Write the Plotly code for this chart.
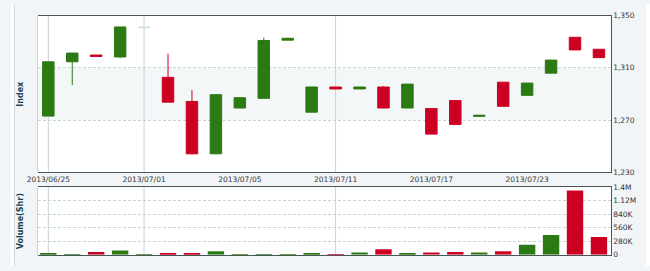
import plotly.graph_objects as go

dates = ["2013/06/25", "2013/06/26", "2013/06/27", "2013/06/28", "2013/07/01", "2013/07/02",
         "2013/07/03", "2013/07/04", "2013/07/05", "2013/07/08", "2013/07/09", "2013/07/10",
         "2013/07/11", "2013/07/12", "2013/07/15", "2013/07/16", "2013/07/17", "2013/07/18",
         "2013/07/19", "2013/07/22", "2013/07/23", "2013/07/24", "2013/07/25", "2013/07/26"]
open_ = [1273.0, 1314.6, 1319.8, 1318.3, 1340.6, 1302.7, 1284.2, 1244.1, 1279.2, 1286.6, 1331.2, 1276.0,
         1295.3, 1293.8, 1295.3, 1279.2, 1278.8, 1284.9, 1272.8, 1299.0, 1288.9, 1305.9, 1333.4, 1324.2]
close = [1314.6, 1321.3, 1318.7, 1341.3, 1341.2, 1283.7, 1244.1, 1289.4, 1287.1, 1330.9, 1332.6, 1295.3,
         1293.8, 1295.3, 1279.2, 1297.5, 1259.2, 1266.6, 1273.6, 1280.5, 1298.3, 1315.9, 1323.7, 1317.8]
high = [1314.6, 1321.3, 1319.8, 1341.3, 1341.2, 1320.8, 1292.9, 1289.4, 1287.1, 1333.2, 1333.0, 1295.3,
        1295.3, 1295.3, 1295.8, 1297.5, 1278.8, 1284.9, 1273.6, 1299.0, 1298.3, 1315.9, 1333.4, 1324.2]
low = [1273.0, 1296.8, 1318.7, 1317.6, 1340.6, 1283.7, 1244.1, 1244.1, 1279.2, 1286.6, 1331.2, 1276.0,
       1293.8, 1293.8, 1279.2, 1279.2, 1259.2, 1266.6, 1272.8, 1280.5, 1288.9, 1305.9, 1323.7, 1317.8]
volume = [27000, 13000, 53000, 87000, 7000, 33000, 20000, 73000, 13000, 13000, 13000, 33000,
          14000, 47000, 113000, 27000, 47000, 53000, 47000, 73000, 207000, 407000, 1327000, 367000]

price_ticks = [1230, 1270, 1310, 1350]
price_labels = ["1,230", "1,270", "1,310", "1,350"]
vol_ticks = [0, 280000, 560000, 840000, 1120000, 1400000]
vol_labels = ["0", "280K", "560K", "840K", "1.12M", "1.4M"]
label_dates = dates[::4]
label_text = ["2013/06/25", "2013/07/01", "2013/07/05", "2013/07/11", "2013/07/17", "2013/07/23"]
faint_idx = [4]
vline_dates = [dates[0], dates[4], dates[12]]

UP = "#2b7a14"
DOWN = "#cc0022"
FAINT_UP = "#d3e6cf"
DARK = "#4a5559"
GRID = "#c6d3d8"
TXT = "#333333"

W, H = 650, 271
x_dom = [27 / W, 610 / W]
y1_dom = [(H - 174) / H, (H - 12) / H]
y2_dom = [(H - 259.3) / H, (H - 189.3) / H]

main_i = [i for i in range(len(dates)) if i not in faint_idx]

fig = go.Figure()
fig.add_trace(go.Candlestick(
    x=[dates[i] for i in main_i], open=[open_[i] for i in main_i], high=[high[i] for i in main_i],
    low=[low[i] for i in main_i], close=[close[i] for i in main_i],
    increasing=dict(line=dict(color=UP, width=1), fillcolor=UP),
    decreasing=dict(line=dict(color=DOWN, width=1), fillcolor=DOWN),
    whiskerwidth=0, xaxis="x", yaxis="y", showlegend=False, hoverinfo="skip"))
fig.add_trace(go.Candlestick(
    x=[dates[i] for i in faint_idx], open=[open_[i] for i in faint_idx], high=[high[i] for i in faint_idx],
    low=[low[i] for i in faint_idx], close=[close[i] for i in faint_idx],
    increasing=dict(line=dict(color=FAINT_UP, width=1), fillcolor=FAINT_UP),
    decreasing=dict(line=dict(color=FAINT_UP, width=1), fillcolor=FAINT_UP),
    whiskerwidth=0, xaxis="x", yaxis="y", showlegend=False, hoverinfo="skip"))

vol_colors = [UP if c >= o else DOWN for o, c in zip(open_, close)]
fig.add_trace(go.Bar(x=dates, y=volume, marker=dict(color=vol_colors, line=dict(width=0)),
                     xaxis="x2", yaxis="y2", showlegend=False, hoverinfo="skip"))

shapes = []
shapes.append(dict(type="rect", xref="x domain", x0=0, x1=1, yref="y", y0=1270, y1=1310,
                   fillcolor="#f4f7f8", line=dict(width=0), layer="below"))
for d in vline_dates:
    shapes.append(dict(type="line", xref="x", x0=d, x1=d, yref="y domain", y0=0, y1=1,
                       line=dict(color=GRID, width=1), layer="below"))
    shapes.append(dict(type="line", xref="x2", x0=d, x1=d, yref="y2 domain", y0=0, y1=1,
                       line=dict(color=GRID, width=1), layer="below"))
for xr, yr in (("x domain", "y domain"), ("x2 domain", "y2 domain")):
    shapes.append(dict(type="line", xref=xr, x0=0, x1=0, yref=yr, y0=0, y1=1,
                       line=dict(color="#c9d1d5", width=1), layer="above"))
shapes.append(dict(type="rect", xref="paper", x0=0, x1=3 / W, yref="paper", y0=0, y1=1,
                   fillcolor="white", line=dict(width=0), layer="below"))
shapes.append(dict(type="line", xref="paper", x0=3.5 / W, x1=3.5 / W, yref="paper", y0=0, y1=1,
                   line=dict(color="#cfd6d9", width=1), layer="below"))
shapes.append(dict(type="rect", xref="paper", x0=646 / W, x1=1, yref="paper", y0=0, y1=1,
                   fillcolor="white", line=dict(width=0), layer="below"))

axis_font = dict(family="DejaVu Sans", size=7.5, color=TXT)
title_font = dict(family="DejaVu Sans", size=8, color="#164655")
xrange = [-0.45, 23.49]

fig.update_layout(
    width=W, height=H, margin=dict(l=0, r=0, t=0, b=0),
    paper_bgcolor="#f2f5f7", plot_bgcolor="white",
    boxgap=0.315, bargap=0.315,
    shapes=shapes,
    xaxis=dict(domain=x_dom, anchor="y", type="category", range=xrange,
               categoryorder="array", categoryarray=dates,
               tickmode="array", tickvals=label_dates, ticktext=label_text,
               showgrid=False, showline=True, mirror=True, linecolor=DARK, linewidth=1,
               ticks="", tickfont=axis_font, rangeslider=dict(visible=False), fixedrange=True),
    yaxis=dict(domain=y1_dom, anchor="x", side="right", range=[1230, 1350],
               tickmode="array", tickvals=price_ticks, ticktext=price_labels,
               showgrid=True, gridcolor=GRID, griddash="3px,2px", gridwidth=1,
               showline=True, linecolor=DARK, linewidth=1, zeroline=False,
               ticks="", tickfont=axis_font),
    xaxis2=dict(domain=x_dom, anchor="y2", type="category", range=xrange,
                categoryorder="array", categoryarray=dates,
                showticklabels=False, showgrid=False, showline=True, mirror=True,
                linecolor=DARK, linewidth=1, ticks=""),
    yaxis2=dict(domain=y2_dom, anchor="x2", side="right", range=[0, 1400000],
                tickmode="array", tickvals=vol_ticks, ticktext=vol_labels,
                showgrid=True, gridcolor=GRID, griddash="3px,2px", gridwidth=1,
                showline=True, linecolor=DARK, linewidth=1, zeroline=False,
                ticks="", tickfont=axis_font),
    annotations=[
        dict(text="<b>Index</b>", xref="paper", yref="paper", x=10 / W, y=(H - 93) / H,
             xanchor="center", yanchor="middle",
             textangle=-90, showarrow=False, font=title_font),
        dict(text="<b>Volume(Shr)</b>", xref="paper", yref="paper", x=10 / W, y=(H - 225) / H,
             xanchor="center", yanchor="middle",
             textangle=-90, showarrow=False, font=title_font),
    ],
)

fig.write_html("out.html")
